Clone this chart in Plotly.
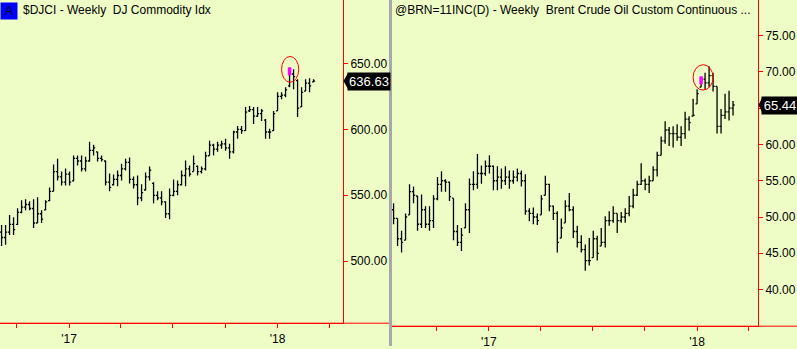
import plotly.graph_objects as go
import pandas as pd

# ---------------- data ----------------
djci_start = "2016-09-05"
djci_open = [522, 518, 522, 528, 528, 537, 541, 543, 540, 529, 536, 539, 546, 553, 568, 564, 560, 566, 561, 578,
             576, 570, 576, 584, 583, 578, 576, 560, 558, 562, 565, 570, 575, 562, 558, 548, 554, 564, 559, 550,
             548, 545, 536, 550, 553, 558, 565, 570, 568, 572, 568, 570, 580, 588, 585, 588, 589, 586, 583, 598,
             600, 599, 614, 615, 610, 612, 607, 598, 599, 614, 625, 626, 633, 642, 637, 617, 629, 635, 636]
djci_high = [527.4, 527.4, 535.0, 533.4, 540.2, 546.2, 547.0, 545.5, 547.0, 548.5, 538.7, 546.2, 556.0, 573.3,
             577.8, 568.0, 570.3, 568.0, 580.1, 580.1, 580.1, 579.3, 590.6, 588.3, 583.1, 580.1, 576.3, 566.5,
             565.8, 568.8, 574.0, 577.8, 578.6, 564.3, 565.0, 558.3, 567.3, 571.8, 559.8, 553.0, 553.0, 545.5,
             555.2, 562.0, 561.3, 568.8, 576.3, 572.5, 580.1, 572.5, 571.8, 583.1, 591.3, 589.1, 590.6, 591.3,
             592.8, 589.1, 598.9, 602.6, 602.6, 616.9, 617.7, 616.9, 616.9, 615.4, 607.9, 600.4, 613.9, 628.2,
             628.2, 632.0, 647.0, 645.5, 638.0, 632.0, 638.0, 638.7, 638.0]
djci_low = [511.6, 512.4, 519.9, 519.9, 527.4, 536.4, 538.7, 538.7, 525.2, 528.9, 528.9, 538.7, 545.5, 553.0,
            561.3, 557.5, 557.5, 557.5, 560.5, 572.5, 568.0, 568.0, 575.6, 580.1, 575.6, 575.6, 557.5, 553.0,
            557.5, 556.8, 561.3, 568.8, 559.0, 555.2, 542.5, 545.5, 553.7, 561.3, 544.0, 546.2, 542.5, 532.7,
            531.9, 549.2, 550.0, 557.5, 556.8, 564.3, 568.0, 565.0, 566.5, 568.8, 580.1, 580.1, 583.1, 585.3,
            583.8, 577.8, 581.6, 592.8, 596.6, 598.9, 613.2, 604.1, 609.4, 606.4, 592.8, 592.8, 598.9, 613.9,
            622.9, 624.4, 632.0, 630.4, 609.4, 616.9, 628.9, 628.2, 635.7]
djci_close = [518, 522, 528, 524, 537, 541, 543, 540, 529, 536, 532, 545, 553, 568, 564, 560, 566, 560, 578, 576,
              570, 576, 584, 586, 578, 577, 560, 556, 562, 565, 570, 575, 562, 558, 548, 552, 564, 569, 550, 548,
              545, 536, 550, 553, 558, 565, 570, 566, 574, 568, 570, 580, 588, 585, 588, 589, 586, 583, 598, 600,
              599, 613, 615, 610, 612, 614, 598, 598, 612, 625, 626, 630, 642, 640, 616, 628, 635, 633, 636.63]
djci_mark_index = 72
djci_mark_top = 647.0
djci_mark_bottom = 641.0

brent_start = "2016-07-18"
brent_open = [51.0, 49.8, 47.0, 46.8, 50.3, 53.5, 52.9, 49.0, 51.0, 49.0, 49.5, 52.5, 54.5, 55.0, 54.8, 52.6, 48.0,
              46.5, 48.5, 51.0, 54.5, 54.5, 56.0, 56.0, 57.0, 57.0, 55.0, 55.5, 55.0, 55.5, 55.0, 55.5, 56.0, 55.0,
              50.8, 50.5, 50.0, 50.3, 53.0, 54.5, 51.5, 50.5, 47.1, 49.2, 51.5, 51.0, 48.0, 46.5, 45.5, 44.0, 44.4,
              47.0, 46.0, 46.5, 49.5, 49.5, 50.5, 49.5, 50.0, 50.5, 51.5, 53.0, 54.5, 55.0, 54.5, 55.0, 56.5, 58.5,
              60.5, 62.0, 61.5, 61.5, 61.0, 61.5, 63.5, 63.9, 65.6, 67.9, 69.0, 68.5, 69.5, 68.0, 62.5, 64.0, 64.5,
              65.0]
brent_high = [51.9, 49.8, 48.1, 50.5, 54.5, 54.2, 52.9, 53.1, 51.5, 51.5, 53.0, 55.5, 56.3, 55.2, 54.9, 52.6, 48.9,
              48.5, 51.9, 55.3, 56.3, 58.7, 57.1, 57.8, 58.5, 57.1, 57.0, 56.7, 57.0, 56.4, 56.4, 56.7, 56.4, 55.9,
              51.2, 51.3, 50.5, 53.0, 55.7, 54.6, 51.6, 50.8, 49.8, 52.3, 53.3, 51.5, 48.8, 47.5, 46.2, 47.1, 48.1,
              47.4, 48.5, 50.1, 50.8, 51.5, 50.5, 50.7, 51.2, 52.9, 53.9, 55.0, 57.4, 55.3, 55.7, 57.0, 59.0, 61.1,
              63.2, 62.4, 62.5, 62.8, 62.5, 64.5, 63.9, 66.3, 67.6, 69.3, 69.9, 70.8, 69.9, 68.0, 64.9, 67.0, 67.4,
              66.0]
brent_low = [49.0, 46.0, 45.1, 46.8, 50.3, 51.9, 48.1, 48.5, 48.5, 48.1, 48.5, 52.3, 53.5, 53.5, 52.2, 46.8, 46.0,
             45.3, 48.5, 47.8, 53.7, 53.9, 54.6, 55.7, 56.0, 53.7, 53.7, 53.9, 54.4, 53.9, 54.6, 54.9, 54.2, 50.3,
             49.4, 49.0, 48.9, 50.3, 53.0, 50.8, 49.6, 45.1, 47.1, 49.2, 50.8, 47.1, 45.8, 45.1, 42.6, 43.3, 44.4,
             44.0, 46.0, 45.8, 48.8, 49.2, 47.8, 49.2, 49.2, 50.1, 51.2, 52.9, 54.4, 53.7, 53.3, 55.0, 55.6, 58.5,
             60.1, 59.8, 59.6, 60.5, 59.8, 60.8, 61.9, 63.9, 65.6, 67.9, 67.6, 67.9, 67.3, 61.5, 61.5, 63.5, 63.3,
             64.0]
brent_close = [49.8, 47.0, 46.5, 50.0, 53.5, 53.0, 49.0, 51.0, 49.0, 49.5, 52.5, 54.5, 55.0, 54.8, 52.8, 48.0, 46.5,
               47.5, 51.0, 54.5, 54.5, 56.0, 56.0, 57.0, 57.0, 55.0, 55.5, 55.0, 55.5, 55.0, 55.5, 56.0, 55.0, 50.8,
               50.5, 50.0, 49.5, 52.5, 54.5, 51.5, 50.5, 46.5, 48.5, 51.5, 51.0, 48.0, 46.5, 45.5, 44.0, 44.0, 47.0,
               45.0, 46.5, 49.5, 49.5, 50.5, 49.5, 50.0, 50.5, 51.5, 53.0, 54.5, 55.0, 54.5, 55.0, 56.5, 58.5, 60.5,
               62.0, 61.5, 61.5, 61.0, 61.5, 63.5, 63.0, 64.0, 67.0, 69.0, 68.5, 69.5, 68.0, 62.5, 64.0, 64.5, 65.0,
               65.44]
brent_mark_index = 77
brent_mark_top = 69.4
brent_mark_bottom = 68.3

djci_yticks = [500, 550, 600, 650]
djci_ytext = ["500.00", "550.00", "600.00", "650.00"]
brent_yticks = [40, 45, 50, 55, 60, 65, 70, 75]
brent_ytext = ["40.00", "45.00", "50.00", "55.00", "60.00", "", "70.00", "75.00"]  # 65.00 hidden by price box
quarter_ticks = ["2016-07-01", "2016-10-01", "2017-01-01", "2017-04-01", "2017-07-01", "2017-10-01",
                 "2018-01-01", "2018-04-01"]
quarter_text = ["", "", "'17", "", "", "", "'18", ""]

djci_title = "$DJCI - Weekly  DJ Commodity Idx"
brent_title = "@BRN=11INC(D) - Weekly  Brent Crude Oil Custom Continuous ..."

# ---------------- figure ----------------
W, H = 797, 349
BG = "#EEFDC6"
RED = "#FF0000"
FONT = "Liberation Sans, Arial, sans-serif"

djci_dates = pd.date_range(djci_start, periods=len(djci_close), freq="7D")
brent_dates = pd.date_range(brent_start, periods=len(brent_close), freq="7D")

fig = go.Figure()
bar_style = dict(line=dict(color="black", width=1.3))
fig.add_trace(go.Ohlc(x=djci_dates, open=djci_open, high=djci_high, low=djci_low, close=djci_close,
                      increasing=bar_style, decreasing=bar_style, tickwidth=0.4,
                      xaxis="x", yaxis="y", hoverinfo="skip", showlegend=False))
fig.add_trace(go.Ohlc(x=brent_dates, open=brent_open, high=brent_high, low=brent_low, close=brent_close,
                      increasing=bar_style, decreasing=bar_style, tickwidth=0.4,
                      xaxis="x2", yaxis="y2", hoverinfo="skip", showlegend=False))

# magenta paint-bar highlights
fig.add_trace(go.Scatter(x=[djci_dates[djci_mark_index]] * 2, y=[djci_mark_bottom, djci_mark_top],
                         mode="lines", line=dict(color="#FF00FF", width=3.5),
                         xaxis="x", yaxis="y", hoverinfo="skip", showlegend=False))
fig.add_trace(go.Scatter(x=[brent_dates[brent_mark_index]] * 2, y=[brent_mark_bottom, brent_mark_top],
                         mode="lines", line=dict(color="#FF00FF", width=3.5),
                         xaxis="x2", yaxis="y2", hoverinfo="skip", showlegend=False))

left_end = 343 / W
right_start = 392 / W
right_end = 758 / W
left_bottom = (H - 326) / H
right_bottom = (H - 329) / H

xcommon = dict(type="date", showgrid=False, zeroline=False, showline=True, linecolor=RED, linewidth=1,
               ticks="outside", tickcolor=RED, ticklen=4, tickwidth=1, tickvals=quarter_ticks,
               ticktext=quarter_text, tickfont=dict(family=FONT, size=12, color="black"),
               rangeslider=dict(visible=False), fixedrange=True)
ycommon = dict(side="right", showgrid=False, zeroline=False, showline=True, linecolor=RED, linewidth=1,
               ticks="outside", tickcolor=RED, ticklen=4, tickwidth=1,
               tickfont=dict(family=FONT, size=12, color="black"), fixedrange=True)

fig.update_layout(
    width=W, height=H, margin=dict(l=0, r=0, t=0, b=0),
    paper_bgcolor=BG, plot_bgcolor=BG, showlegend=False,
    xaxis=dict(xcommon, domain=[0, left_end], anchor="y",
               range=["2016-09-02 06:00", "2018-04-25 12:00"]),
    yaxis=dict(ycommon, domain=[left_bottom, 1], anchor="x", range=[453.0, 698.1],
               tickvals=djci_yticks, ticktext=djci_ytext),
    xaxis2=dict(xcommon, domain=[right_start, right_end], anchor="y2",
                range=["2016-07-15 06:00", "2018-04-17 18:00"]),
    yaxis2=dict(ycommon, domain=[right_bottom, 1], anchor="x2", range=[34.95, 79.92],
                tickvals=brent_yticks, ticktext=brent_ytext),
)

shapes = []
shapes.append(dict(type="line", xref="paper", yref="paper", x0=0, x1=389 / W, y0=left_bottom, y1=left_bottom,
                   line=dict(color=RED, width=1)))
shapes.append(dict(type="line", xref="paper", yref="paper", x0=right_start, x1=1, y0=right_bottom, y1=right_bottom,
                   line=dict(color=RED, width=1)))
shapes.append(dict(type="rect", xref="paper", yref="paper", x0=389 / W, x1=392 / W, y0=0, y1=1,
                   fillcolor="#A8A8A8", line=dict(width=0)))
d = djci_dates[djci_mark_index]
shapes.append(dict(type="circle", xref="x", yref="y",
                   x0=d - pd.Timedelta(days=14), x1=d + pd.Timedelta(days=16),
                   y0=djci_mark_bottom - 5.3, y1=djci_mark_top + 8.3, line=dict(color=RED, width=1)))
b = brent_dates[brent_mark_index]
shapes.append(dict(type="circle", xref="x2", yref="y2",
                   x0=b - pd.Timedelta(days=14), x1=b + pd.Timedelta(days=21),
                   y0=brent_mark_bottom - 0.8, y1=brent_mark_top + 1.6, line=dict(color=RED, width=1)))
shapes.append(dict(type="path", xref="paper", yref="y", ysizemode="pixel", yanchor=djci_close[-1],
                   path=f"M {343.5 / W},0 L {348 / W},8 L {348 / W},-8 Z",
                   fillcolor="black", line=dict(width=0)))
shapes.append(dict(type="path", xref="paper", yref="y2", ysizemode="pixel", yanchor=brent_close[-1],
                   path=f"M {758.5 / W},0 L {762 / W},7 L {762 / W},-7 Z",
                   fillcolor="black", line=dict(width=0)))
fig.update_layout(shapes=shapes)

annotations = [
    dict(text="A", xref="paper", yref="paper", x=0, y=1, xanchor="left", yanchor="top", yshift=-2,
         showarrow=False, bgcolor="#0000FF", font=dict(family=FONT, size=12, color="black"),
         borderpad=1, width=14, align="center"),
    dict(text=djci_title, xref="paper", yref="paper", x=21 / W, y=1, xanchor="left", yanchor="top", yshift=-1,
         showarrow=False, font=dict(family=FONT, size=12, color="black")),
    dict(text=brent_title, xref="paper", yref="paper", x=393 / W, y=1, xanchor="left", yanchor="top", yshift=-1,
         showarrow=False, font=dict(family=FONT, size=12, color="black")),
    dict(text=f"{djci_close[-1]:.2f}", xref="paper", yref="y", x=347 / W, y=djci_close[-1], xanchor="left",
         yanchor="middle", showarrow=False, bgcolor="black", borderpad=1, width=40,
         font=dict(family=FONT, size=13, color="white")),
    dict(text=f"{brent_close[-1]:.2f}", xref="paper", yref="y2", x=761 / W, y=brent_close[-1], xanchor="left",
         yanchor="middle", showarrow=False, bgcolor="black", borderpad=1, width=34,
         font=dict(family=FONT, size=13, color="white")),
]
fig.update_layout(annotations=annotations)

fig.write_html("out.html")
